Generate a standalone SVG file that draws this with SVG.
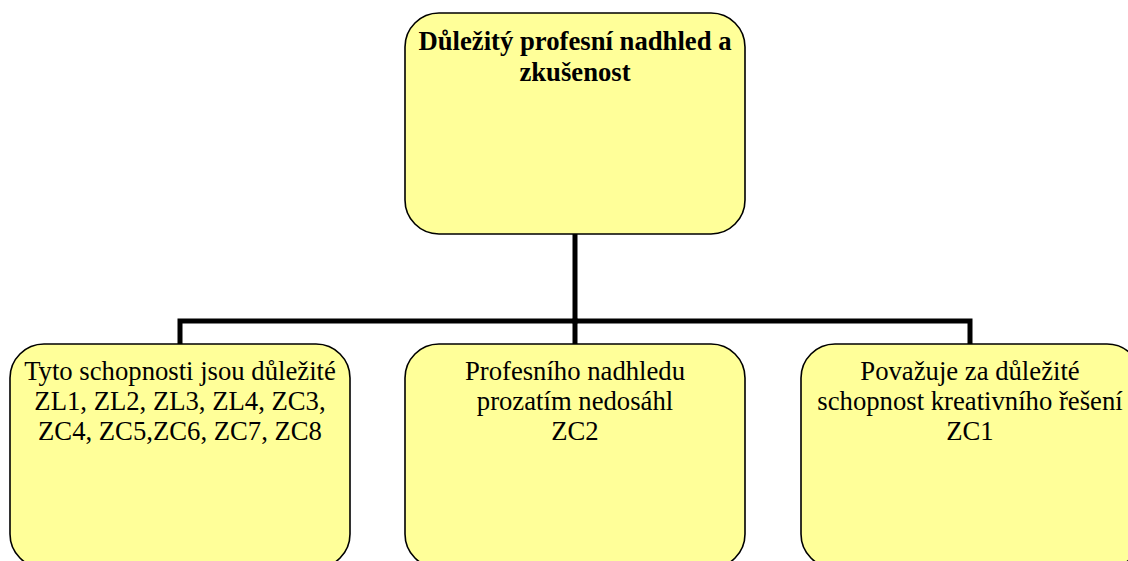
<svg xmlns="http://www.w3.org/2000/svg" width="1128" height="561" viewBox="0 0 1128 561">
  <style>
    .box { fill: #ffff99; stroke: #000; stroke-width: 1.6; }
    .wire { fill: none; stroke: #000; stroke-width: 5; stroke-linecap: square; }
    .t { font-family: "Liberation Serif", "Times New Roman", serif; font-size: 26.7px; fill: #000; text-anchor: middle; }
    .b { font-weight: bold; }
  </style>
  <rect width="1128" height="561" fill="#fff"/>

  <g id="connectors">
    <path class="wire" d="M575 234 V321"/>
    <path class="wire" d="M180 344 V321 H970 V344"/>
    <path class="wire" d="M575 321 V344"/>
  </g>

  <g id="root">
    <rect class="box" x="405" y="13" width="340" height="221" rx="34" ry="34"/>
    <text class="t b" x="575" y="50">Důležitý profesní nadhled a</text>
    <text class="t b" x="575" y="81">zkušenost</text>
  </g>

  <g id="child-left">
    <rect class="box" x="10" y="344" width="340" height="224" rx="34" ry="34"/>
    <text class="t" x="180" y="380">Tyto schopnosti jsou důležité</text>
    <text class="t" x="180" y="410">ZL1, ZL2, ZL3, ZL4, ZC3,</text>
    <text class="t" x="180" y="440">ZC4, ZC5,ZC6, ZC7, ZC8</text>
  </g>

  <g id="child-middle">
    <rect class="box" x="405" y="344" width="340" height="224" rx="34" ry="34"/>
    <text class="t" x="575" y="380">Profesního nadhledu</text>
    <text class="t" x="575" y="410">prozatím nedosáhl</text>
    <text class="t" x="575" y="440">ZC2</text>
  </g>

  <g id="child-right">
    <rect class="box" x="801" y="344" width="340" height="224" rx="34" ry="34"/>
    <text class="t" x="970" y="380">Považuje za důležité</text>
    <text class="t" x="970" y="410">schopnost kreativního řešení</text>
    <text class="t" x="970" y="440">ZC1</text>
  </g>
</svg>
